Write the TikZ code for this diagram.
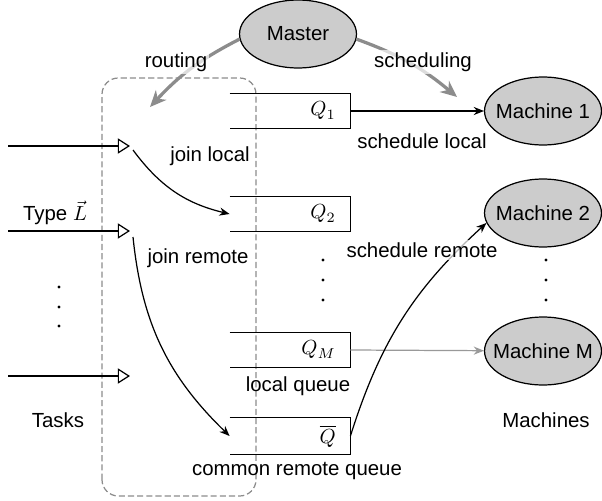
\documentclass[tikz,border=0pt]{standalone}
\usepackage{fontspec}
\setmainfont{Liberation Sans}
\usetikzlibrary{shapes.geometric,arrows.meta}
\tikzset{
 machine/.style={ellipse, draw, line width=0.6pt, fill=gray!40, minimum width=57.3pt, minimum height=33.3pt, inner sep=0pt},
 queue/.style={inner xsep=7pt, text width=44.8pt, align=right, minimum height=16.7pt},
 flow/.style={-{Stealth[length=5pt,width=4pt]}, line width=0.6pt},
 ctrl/.style={-{Stealth[length=8pt,width=7pt,inset=2.5pt]}, line width=1.6pt, gray!90},
 task/.style={-{Triangle[open,length=6pt,width=7.5pt]}, line width=0.6pt},
 fade/.style={fill=white, fill opacity=0.7, text opacity=1, inner sep=1pt},
}
\begin{document}
\begin{tikzpicture}[x=0.49pt,y=0.49pt]
\useasboundingbox (0,0) rectangle (602,500);
\draw[gray!90, dash pattern=on 3pt off 1.5pt, rounded corners=8pt, line width=0.6pt] (102,4) rectangle (256,422);
\node[machine] (master) at (298,466){\makebox[0pt]{Master}};
\node[machine] (mach1) at (543,389){\makebox[0pt]{Machine 1}};
\node[machine] (mach2) at (543,287){\makebox[0pt]{Machine 2}};
\node[machine] (machM) at (543,149){\makebox[0pt]{Machine M}};
\node[queue] (q1) at (290,389){$Q_1$};
\node[queue] (q2) at (290,286){$Q_2$};
\node[queue] (qM) at (290,150){$Q_M$};
\node[queue] (qbar) at (290,64){$\overline{Q}$};
\foreach \q in {q1,q2,qM,qbar}
 \draw[line width=0.6pt] (\q.north west) -- (\q.north east) -- (\q.south east) -- (\q.south west);
\coordinate (in1) at (8,354);
\coordinate (in2) at (8,269);
\coordinate (in3) at (8,124);
\coordinate (t1) at (130,354);
\coordinate (t2) at (130,269);
\coordinate (t3) at (130,124);
\coordinate (rtip) at (150,393);
\coordinate (stip) at (457,403);
\draw[task](in1) -- (t1);
\draw[task](in2) -- (t2);
\draw[task](in3) -- (t3);
\draw[flow]([shift={(3,-4)}]t1) to[bend right=20] (q2.west);
\draw[flow]([shift={(3,-6)}]t2) to[bend right=20] (qbar.west);
\draw[flow](q1.east) -- (mach1);
\draw[flow, gray!80](qM.east) -- (machM);
\draw[flow](qbar.east) to[bend left=15] (mach2.190);
\draw[ctrl](master.185) to[bend right=10] (rtip);
\draw[ctrl](master.355) to[bend left=10] (stip);
\node[fade] (lroute) at (176,438){routing};
\node[fade] (lsched) at (423,438){scheduling};
\node[fade] (lremote) at (422,250){schedule remote};
\node (llocal) at (422,359){schedule local};
\node (ljoinl) at (210,344){join local};
\node (ljoinr) at (198,242){join remote};
\node[inner ysep=1pt] (ltype) at (55,287){Type $\vec{L}$};
\node (lqueue) at (298,114){local queue};
\node (lcommon) at (297,29){common remote queue};
\node (ltasks) at (58,80){Tasks};
\node (lmach) at (546,80){Machines};
\foreach \x in {59}
 \foreach \y in {213,193,174}
  \fill (\x,\y) circle (1.6);
\foreach \x in {323,546}
 \foreach \y in {240,220,200}
  \fill (\x,\y) circle (1.6);
\end{tikzpicture}
\end{document}
